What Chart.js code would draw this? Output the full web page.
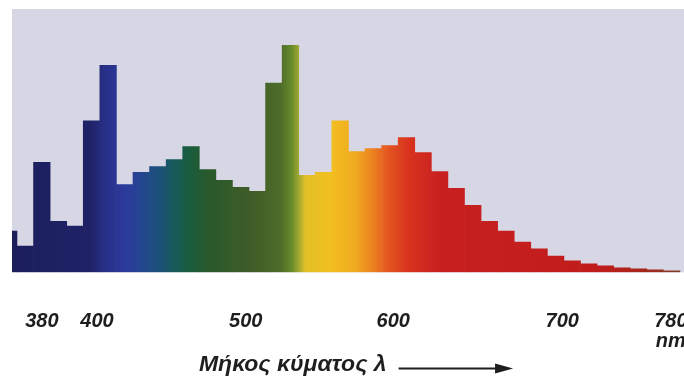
<!DOCTYPE html>
<html>
<head>
<meta charset="utf-8">
<title>Spectrum</title>
<script src="https://cdn.jsdelivr.net/npm/chart.js@4.4.1/dist/chart.umd.min.js"></script>
<style>
    html, body { margin: 0; padding: 0; background: #fff; overflow: hidden; width: 684px; height: 385px; }
    canvas { display: block; }
</style>
</head>
<body>
<canvas id="spectrumChart" width="700" height="385"></canvas>
<script>
// one bar per band, the first one is cut by the left edge
const BINS = [0, 1, 2, 3, 4, 5, 6, 7, 8, 9, 10, 11, 12, 13, 14, 15, 16, 17, 18, 19, 20,
    21, 22, 23, 24, 25, 26, 27, 28, 29, 30, 31, 32, 33, 34, 35, 36, 37, 38, 39, 40];
const INTENSITY = [18.2, 11.6, 48.4, 22.5, 20.4, 66.7, 91.2, 38.7, 44.0, 46.6, 49.7,
    55.4, 45.3, 40.5, 37.4, 35.7, 83.4, 100, 42.7, 44.0, 66.7, 53.2, 54.5, 55.8, 59.3,
    52.7, 44.4, 37.0, 29.5, 22.5, 18.2, 13.3, 10.3, 7.2, 5.0, 3.7, 2.8, 2.0, 1.5, 1.1, 0.7];
// where the printed wavelengths sit under the bars
const TICK_AT = [2, 5.33, 14.3, 23.2, 33.4, 39.95];
const TICK_LABELS = ['380', '400', '500', '600', '700', ['780', 'nm']];
const AXIS_TITLE = 'Μήκος κύματος λ';

// spectrum colours along the bands
const SPECTRUM_AT = [0.2, 4.9, 5.8, 7.0, 7.9, 9.1, 10.0, 10.9, 12.1, 14.6, 16.4, 17.1,
    17.5, 17.9, 19.4, 20.9, 21.9, 23.0, 24.2, 26.0, 35.7, 38.7, 40.5];
const SPECTRUM_COLORS = ['#1c1f5c', '#1f2266', '#283088', '#2c3a9c', '#244492', '#1b5078',
    '#185a5a', '#195c3c', '#2a5a2c', '#3f5c28', '#4e6c28', '#6a8c2c', '#a0a830', '#e2c028',
    '#f2c020', '#f0aa20', '#ec8420', '#e25220', '#d8321e', '#c82020', '#c01c1c', '#a0281a',
    '#80402a'];

const PAPER = '#d7d6e4';
const INK = '#1e1e1e';
const FONT_FAMILY = "'Liberation Sans', Arial, sans-serif";
const TITLE_GAP = '\u2003'.repeat(5) + '\u2002';

let oChart = {
    init: function() {
        this.oGradient = null;
        this.iGradientWidth = 0;
        this.oCanvas = document.getElementById('spectrumChart').getContext('2d');
        this.drawChart();
    },
    /**
     * Horizontal spectrum gradient, built once the chart area is known
     */
    getSpectrum: function(oContext) {
        const oInst = oContext.chart;
        const oArea = oInst.chartArea;
        if (!oArea) {
            return SPECTRUM_COLORS[0];
        }
        if (oChart.oGradient && oChart.iGradientWidth === oArea.width) {
            return oChart.oGradient;
        }
        const oScale = oInst.scales.x;
        const oGrad = oInst.ctx.createLinearGradient(oArea.left, 0, oArea.right, 0);
        SPECTRUM_AT.forEach(function(fAt, i) {
            let fOffset = (oScale.getPixelForValue(fAt) - oArea.left) / oArea.width;
            oGrad.addColorStop(Math.min(Math.max(fOffset, 0), 1), SPECTRUM_COLORS[i]);
        });
        oChart.oGradient = oGrad;
        oChart.iGradientWidth = oArea.width;
        return oGrad;
    },
    buildData: function() {
        return {
            datasets: [{
                data: BINS.map(function(iBin, i) { return {x: iBin, y: INTENSITY[i]}; }),
                backgroundColor: oChart.getSpectrum,
                borderWidth: 0,
                barPercentage: 1,
                categoryPercentage: 1
            }]
        };
    },
    /**
     * Grey paper behind the bars
     */
    paperPlugin: {
        id: 'paper',
        beforeDraw: function(oInst) {
            const ctx = oInst.ctx;
            const a = oInst.chartArea;
            ctx.save();
            ctx.fillStyle = '#ffffff';
            ctx.fillRect(0, 0, oInst.width, oInst.height);
            ctx.fillStyle = PAPER;
            ctx.fillRect(a.left, a.top, a.right - a.left, a.bottom - a.top);
            ctx.restore();
        }
    },
    /**
     * Arrow after the axis title
     */
    arrowPlugin: {
        id: 'arrow',
        afterDraw: function(oInst) {
            const oScale = oInst.scales.x;
            const oTitle = oScale.options.title;
            const ctx = oInst.ctx;
            ctx.save();
            ctx.font = 'italic bold ' + oTitle.font.size + 'px ' + FONT_FAMILY;
            const fFull = ctx.measureText(AXIS_TITLE + TITLE_GAP).width;
            const fText = ctx.measureText(AXIS_TITLE).width;
            const fCenter = (oScale.left + oScale.right) / 2;
            const fStart = fCenter - fFull / 2 + fText + 12;
            const fEnd = fCenter + fFull / 2;
            const fY = oScale.bottom - oTitle.padding.bottom - oTitle.font.size * 1.2 / 2 + 4;
            ctx.strokeStyle = INK;
            ctx.fillStyle = INK;
            ctx.lineWidth = 2;
            ctx.beginPath();
            ctx.moveTo(fStart, fY);
            ctx.lineTo(fEnd - 14, fY);
            ctx.stroke();
            ctx.beginPath();
            ctx.moveTo(fEnd - 18, fY - 5);
            ctx.lineTo(fEnd, fY);
            ctx.lineTo(fEnd - 18, fY + 5);
            ctx.closePath();
            ctx.fill();
            ctx.restore();
        }
    },
    drawChart: function() {
        return new Chart(this.oCanvas, {
            type: 'bar',
            data: this.buildData(),
            plugins: [this.paperPlugin, this.arrowPlugin],
            options: {
                responsive: false,
                animation: false,
                layout: { padding: { left: 12, top: 9, right: 0, bottom: 0 } },
                plugins: {
                    legend: { display: false },
                    tooltip: { enabled: false }
                },
                scales: {
                    x: {
                        type: 'linear',
                        offset: false,
                        min: 0.2,
                        max: 41.71,
                        grid: { display: false, drawTicks: false },
                        border: { display: false },
                        afterBuildTicks: function(oScale) {
                            oScale.ticks = TICK_AT.map(function(v) { return {value: v}; });
                        },
                        afterFit: function(oScale) {
                            // labels may run past the edges, as in the print
                            oScale.paddingLeft = 0;
                            oScale.paddingRight = 0;
                        },
                        ticks: {
                            autoSkip: false,
                            maxRotation: 0,
                            padding: 39.5,
                            color: INK,
                            font: { family: FONT_FAMILY, size: 20, weight: 'bold', style: 'italic', lineHeight: 1 },
                            callback: function(value, index) { return TICK_LABELS[index]; }
                        },
                        title: {
                            display: true,
                            text: AXIS_TITLE + TITLE_GAP,
                            color: INK,
                            padding: { top: -40.7, bottom: 6.8 },
                            font: { family: FONT_FAMILY, size: 23, weight: 'bold', style: 'italic' }
                        }
                    },
                    y: {
                        display: false,
                        min: 0,
                        max: 116
                    }
                }
            }
        });
    }
};

oChart.init();
</script>
</body>
</html>
